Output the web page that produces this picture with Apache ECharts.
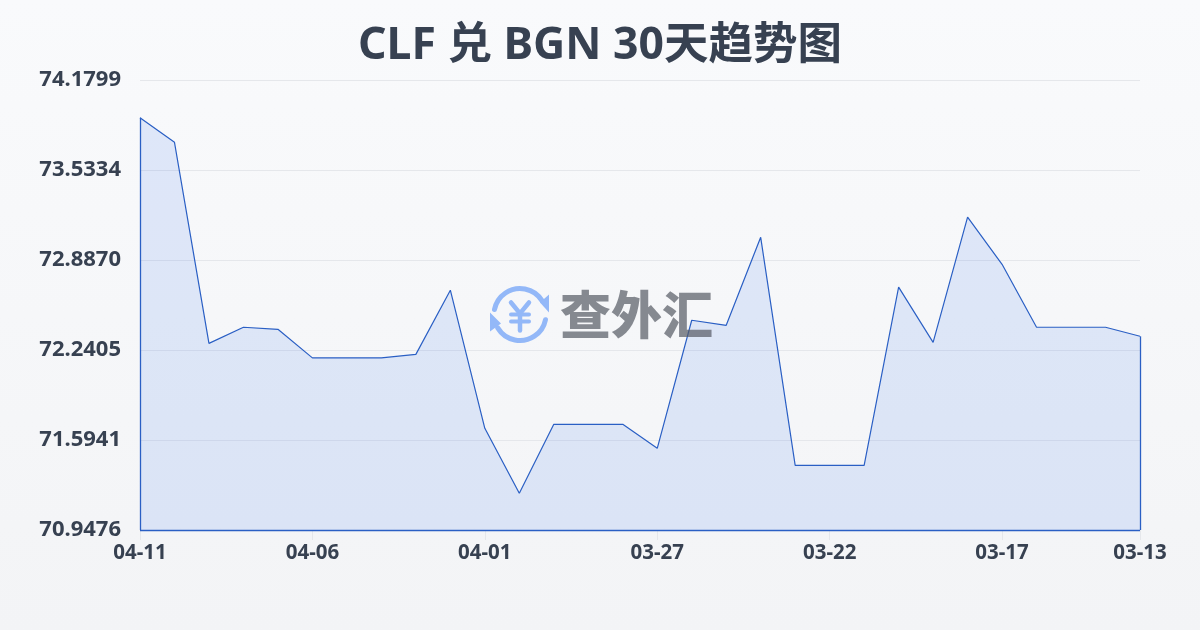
<!DOCTYPE html>
<html><head><meta charset="utf-8">
<style>html,body{margin:0;padding:0;width:1200px;height:630px;overflow:hidden;background:linear-gradient(180deg,#f9fafc,#f3f4f6)}#c{width:1200px;height:630px}</style>
<script src="https://cdn.jsdelivr.net/npm/echarts@6/dist/echarts.min.js"></script>
</head><body><div id="c"></div>
<script>
const titleText = 'CLF 兑 BGN 30天趋势图';
const categories = ['04-11','04-10','04-09','04-08','04-07','04-06','04-05','04-04','04-03','04-02','04-01','03-31','03-30','03-29','03-28','03-27','03-26','03-25','03-24','03-23','03-22','03-21','03-20','03-19','03-18','03-17','03-16','03-15','03-14','03-13'];
const values = [73.9080,73.7320,72.2880,72.4040,72.3890,72.1840,72.1840,72.1840,72.2090,72.6700,71.6780,71.2110,71.7070,71.7070,71.7070,71.5340,72.4540,72.4180,73.0500,71.4120,71.4120,71.4120,72.6920,72.2950,73.1950,72.8560,72.4040,72.4040,72.4040,72.3390];
const yTicks = [70.9476,71.5941,72.2405,72.8870,73.5334,74.1799];
const yMin = yTicks[0], yMax = yTicks[yTicks.length-1];
const first = categories[0], last = categories[categories.length-1];
const lineColor = '#2a5fc4';
const chart = echarts.init(document.getElementById('c'));
const iconBlue = '#93b8f8';
chart.setOption({
  animation:false,
  backgroundColor:'transparent',
  textStyle:{fontFamily:'"Noto Sans","Noto Sans CJK SC",sans-serif'},
  title:{text:titleText,left:'center',top:19,textStyle:{fontSize:44.5,fontWeight:'bold',color:'#374151',fontFamily:'"Noto Sans","Noto Sans CJK SC",sans-serif'}},
  grid:{left:140,right:60,top:80,bottom:100},
  xAxis:{type:'category',boundaryGap:false,data:categories,
    axisLine:{show:false},
    axisTick:{show:true,alignWithLabel:true,interval:4,length:10,lineStyle:{color:'#e5e7eb'}},
    axisLabel:{interval:4,color:'#374151',fontSize:20.5,fontWeight:'bold',margin:13,showMaxLabel:true,hideOverlap:false}},
  yAxis:{type:'value',min:yMin,max:yMax,
    axisLine:{show:false},axisTick:{show:false,customValues:yTicks},
    axisLabel:{customValues:yTicks,color:'#374151',fontSize:22,fontWeight:'bold',margin:19,padding:[0,0,2,0],
      formatter:v=>v.toFixed(4)},
    splitLine:{show:true,lineStyle:{color:'#e5e7eb',width:1}}},
  series:[{type:'line',data:values,symbol:'none',smooth:false,
    lineStyle:{color:lineColor,width:1.2},
    areaStyle:{color:'rgba(37,99,235,0.17)',origin:'start'},
    markLine:{silent:true,symbol:'none',label:{show:false},lineStyle:{color:lineColor,width:1.3,type:'solid'},
      data:[
        [{coord:[first,values[0]]},{coord:[first,yMin]}],
        [{coord:[first,yMin]},{coord:[last,yMin]}],
        [{coord:[last,yMin]},{coord:[last,values[values.length-1]]}]
      ]}
  }],
  graphic:[
    {type:'text',left:560,top:289,z:100,style:{text:'查外汇',fontSize:51,fontWeight:900,fill:'rgba(85,90,100,0.7)',fontFamily:'"Noto Sans CJK SC"'}},
    {type:'group',z:100,left:490,top:286,silent:true,children:[
      {type:'arc',shape:{cx:30,cy:29,r:26,startAngle:-2.95,endAngle:-0.55},style:{stroke:iconBlue,lineWidth:5,fill:'none',lineCap:'round'}},
      {type:'arc',shape:{cx:30,cy:29,r:26,startAngle:0.2,endAngle:2.6},style:{stroke:iconBlue,lineWidth:5,fill:'none',lineCap:'round'}},
      {type:'polygon',shape:{points:[[50,17],[59,9],[59,27]]},style:{fill:iconBlue}},
      {type:'polygon',shape:{points:[[0,27],[0,46],[11,38]]},style:{fill:iconBlue}},
      {type:'polyline',shape:{points:[[21,17],[30,28],[39,17]]},style:{stroke:iconBlue,lineWidth:4.5,fill:'none',lineCap:'round'}},
      {type:'line',shape:{x1:30,y1:28,x2:30,y2:45},style:{stroke:iconBlue,lineWidth:4.5,lineCap:'round'}},
      {type:'line',shape:{x1:21,y1:29,x2:39,y2:29},style:{stroke:iconBlue,lineWidth:4,lineCap:'round'}},
      {type:'line',shape:{x1:21,y1:36,x2:39,y2:36},style:{stroke:iconBlue,lineWidth:4,lineCap:'round'}}
    ]}
  ]
});
</script></body></html>
